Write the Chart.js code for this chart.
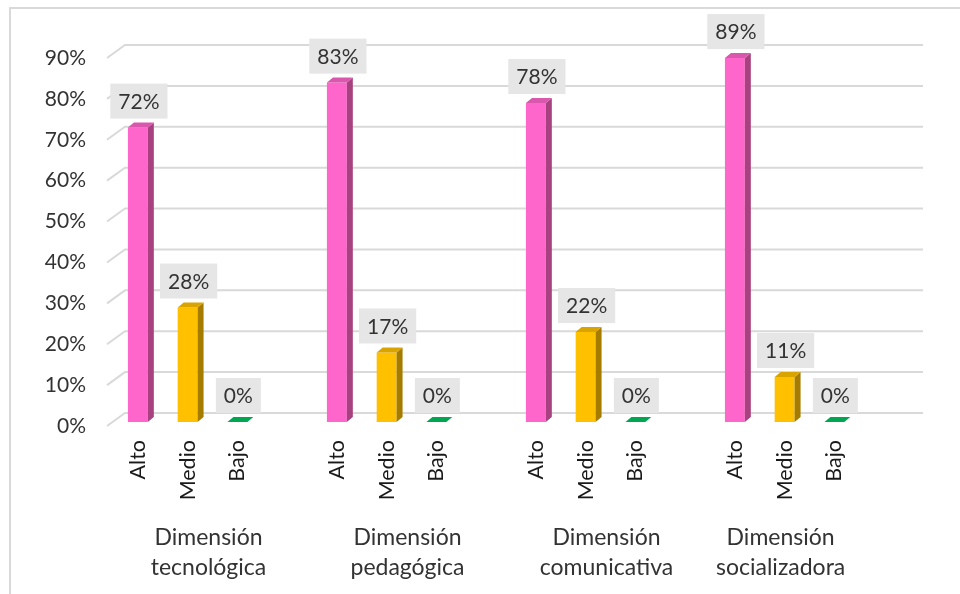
<!DOCTYPE html>
<html lang="es">

<head>
    <meta charset="UTF-8">
    <title>Niveles por dimensión</title>
    <script src="https://cdn.jsdelivr.net/npm/chart.js"></script>
    <style>
        html, body { margin: 0; padding: 0; background: #fff; }
    </style>
</head>

<body>
    <canvas id="graficoDimensiones" width="960" height="594"></canvas>
    <script>
        // Datos
        const niveles = ['Alto', 'Medio', 'Bajo'];
        const dimensiones = [
            ['Dimensión', 'tecnológica'],
            ['Dimensión', 'pedagógica'],
            ['Dimensión', 'comunicativa'],
            ['Dimensión', 'socializadora']
        ];
        const tecnologica = [72, 28, 0];
        const pedagogica = [83, 17, 0];
        const comunicativa = [78, 22, 0];
        const socializadora = [89, 11, 0];
        const ticksY = [0, 10, 20, 30, 40, 50, 60, 70, 80, 90];

        // colores: cara frontal, lateral y superior por nivel
        const frente = ['#FF66CC', '#FFC000', '#00A651'];
        const lado = ['#A8417F', '#A67C00', '#006B34'];
        const arriba = ['#D957AD', '#D9A300', '#00A651'];

        // cada dimensión ocupa 4 huecos: Alto, Medio, Bajo y un espacio vacío
        const etiquetas = [];
        const valores = [];
        const colores = [];
        [tecnologica, pedagogica, comunicativa, socializadora].forEach(serie => {
            serie.forEach((v, i) => {
                etiquetas.push(niveles[i]);
                valores.push(v);
                colores.push(frente[i]);
            });
            etiquetas.push('');
            valores.push(null);
            colores.push('#fff');
        });

        const FUENTE = 'Lato, "Open Sans", sans-serif';
        const DX = 6, DY = 5; // profundidad de las barras

        // paredes del fondo: líneas de división con su diagonal
        const fondo3d = {
            id: 'fondo3d',
            beforeDraw(chart) {
                const c = chart.ctx;
                c.save();
                c.strokeStyle = '#D9D9D9';
                c.lineWidth = 2;
                c.beginPath();
                c.moveTo(10, 594);
                c.lineTo(10, 8);
                c.lineTo(960, 8);
                c.stroke();
                c.restore();
            },
            beforeDatasetsDraw(chart) {
                const c = chart.ctx;
                const y = chart.scales.y;
                const area = chart.chartArea;
                c.save();
                c.strokeStyle = '#D9D9D9';
                c.lineWidth = 2;
                ticksY.forEach(v => {
                    const py = y.getPixelForValue(v);
                    c.beginPath();
                    c.moveTo(area.left - 6, py + 4);
                    c.lineTo(area.left + 12, py - 9);
                    c.lineTo(area.right + 14, py - 9);
                    c.stroke();
                });
                c.restore();
            }
        };

        // caras laterales, tapas y etiquetas de valor
        const barras3d = {
            id: 'barras3d',
            afterDatasetsDraw(chart) {
                const c = chart.ctx;
                const meta = chart.getDatasetMeta(0);
                c.save();
                meta.data.forEach((el, i) => {
                    const v = valores[i];
                    if (v === null) return;
                    const n = i % 4;
                    const izq = el.x - el.width / 2;
                    const der = el.x + el.width / 2;
                    const tope = el.y;
                    const base = el.base;

                    c.fillStyle = lado[n];
                    c.beginPath();
                    c.moveTo(der, tope);
                    c.lineTo(der + DX, tope - DY);
                    c.lineTo(der + DX, base - DY);
                    c.lineTo(der, base);
                    c.closePath();
                    c.fill();

                    c.fillStyle = arriba[n];
                    c.beginPath();
                    c.moveTo(izq, tope);
                    c.lineTo(izq + DX, tope - DY);
                    c.lineTo(der + DX, tope - DY);
                    c.lineTo(der, tope);
                    c.closePath();
                    c.fill();

                    // etiqueta con fondo gris
                    const texto = v + '%';
                    c.font = '21px ' + FUENTE;
                    const ancho = c.measureText(texto).width + 16;
                    const alto = 35;
                    const cx = el.x + 1;
                    const abajo = tope - DY - 4;
                    c.fillStyle = '#E7E6E6';
                    c.fillRect(cx - ancho / 2, abajo - alto, ancho, alto);
                    c.fillStyle = '#333333';
                    c.textAlign = 'center';
                    c.textBaseline = 'middle';
                    c.fillText(texto, cx, abajo - alto / 2 + 1);
                });
                c.restore();
            },
            afterDraw(chart) {
                // nombres de las dimensiones debajo de cada grupo
                const c = chart.ctx;
                const x = chart.scales.x;
                c.save();
                c.font = '23px ' + FUENTE;
                c.fillStyle = '#333333';
                c.textAlign = 'center';
                c.textBaseline = 'middle';
                dimensiones.forEach((lineas, g) => {
                    const ini = x.getPixelForValue(g * 4);
                    // el último grupo se centra solo sobre sus tres barras
                    const fin = x.getPixelForValue(g * 4 + (g === dimensiones.length - 1 ? 2 : 3));
                    const cx = (ini + fin) / 2 - 4;
                    lineas.forEach((t, k) => c.fillText(t, cx, 538 + k * 30));
                });
                c.restore();
            }
        };

        const ctx = document.getElementById('graficoDimensiones').getContext('2d');
        const grafico = new Chart(ctx, {
            type: 'bar',
            data: {
                labels: etiquetas,
                datasets: [{
                    data: valores,
                    backgroundColor: colores,
                    borderWidth: 0,
                    barPercentage: 1,
                    categoryPercentage: 0.4
                }]
            },
            options: {
                responsive: false,
                animation: false,
                layout: { padding: { left: 0, right: 51, top: 54, bottom: 0 } },
                plugins: {
                    legend: { display: false },
                    tooltip: { enabled: false }
                },
                scales: {
                    x: {
                        grid: { display: false, drawTicks: false },
                        border: { display: false },
                        ticks: {
                            autoSkip: false,
                            minRotation: 90,
                            maxRotation: 90,
                            padding: 18,
                            color: '#1a1a1a',
                            font: { family: FUENTE, size: 21.5 }
                        },
                        afterFit(scale) { scale.height = 172; }
                    },
                    y: {
                        min: 0,
                        max: 90,
                        grid: { display: false, drawTicks: false },
                        border: { display: false },
                        afterBuildTicks(scale) {
                            scale.ticks = ticksY.map(v => ({ value: v }));
                        },
                        ticks: {
                            padding: 27,
                            labelOffset: 4,
                            color: '#333333',
                            font: { family: FUENTE, size: 21 },
                            callback: v => v + '%'
                        },
                        afterFit(scale) { scale.width = 113; }
                    }
                }
            },
            plugins: [fondo3d, barras3d]
        });
    </script>
</body>

</html>
